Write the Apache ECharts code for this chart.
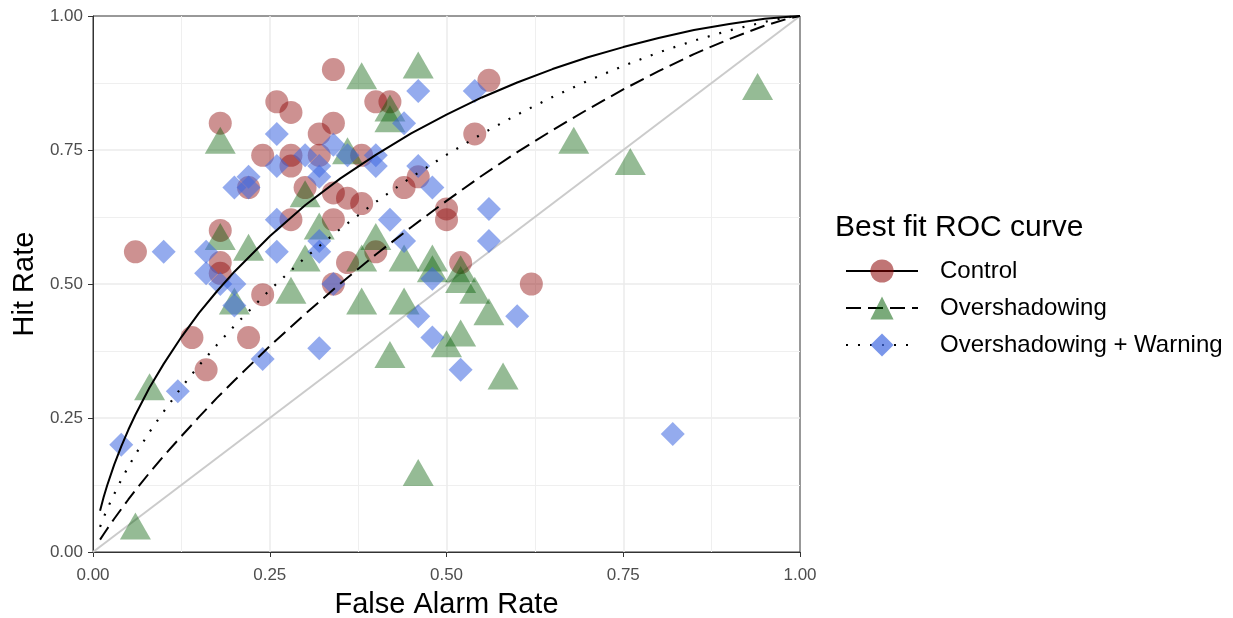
<!DOCTYPE html>
<html>
<head>
<meta charset="utf-8">
<script src="https://cdn.jsdelivr.net/npm/echarts@6/dist/echarts.min.js"></script>
<style>
  html, body { margin: 0; padding: 0; background: #fff; }
  #chart { width: 1233px; height: 618px; }
</style>
</head>
<body>
<div id="chart"></div>
<script>
// Observed false alarm / hit rates per participant
const controlFar = [0.06,0.18,0.34,0.56,0.62,0.26,0.28,0.40,0.42,0.34,0.32,0.24,0.28,0.28,0.32,0.38,0.54,0.22,0.30,0.44,0.46,0.34,0.36,0.38,0.34,0.50,0.50,0.28,0.18,0.18,0.18,0.24,0.14,0.22,0.16,0.36,0.40,0.34,0.52];
const controlHit = [0.56,0.80,0.90,0.88,0.50,0.84,0.82,0.84,0.84,0.80,0.78,0.74,0.74,0.72,0.74,0.74,0.78,0.68,0.68,0.68,0.70,0.67,0.66,0.65,0.62,0.64,0.62,0.62,0.60,0.54,0.52,0.48,0.40,0.40,0.34,0.54,0.56,0.50,0.54];

const overFar = [0.18,0.38,0.46,0.42,0.42,0.36,0.30,0.18,0.22,0.20,0.28,0.30,0.32,0.38,0.40,0.38,0.44,0.48,0.48,0.52,0.52,0.54,0.56,0.44,0.50,0.52,0.42,0.58,0.08,0.06,0.46,0.68,0.76,0.94];
const overHit = [0.76,0.88,0.90,0.82,0.80,0.74,0.66,0.58,0.56,0.46,0.48,0.54,0.60,0.46,0.58,0.54,0.54,0.54,0.52,0.52,0.50,0.48,0.44,0.46,0.38,0.40,0.36,0.32,0.30,0.04,0.14,0.76,0.72,0.86];

const warnFar = [0.04,0.12,0.10,0.16,0.16,0.18,0.20,0.20,0.24,0.26,0.26,0.20,0.22,0.22,0.26,0.26,0.30,0.32,0.32,0.34,0.36,0.40,0.40,0.44,0.46,0.54,0.46,0.48,0.32,0.32,0.34,0.42,0.44,0.48,0.56,0.56,0.46,0.48,0.32,0.52,0.60,0.82];
const warnHit = [0.20,0.30,0.56,0.56,0.52,0.50,0.50,0.46,0.36,0.62,0.56,0.68,0.70,0.68,0.72,0.78,0.74,0.72,0.70,0.76,0.74,0.74,0.72,0.80,0.86,0.86,0.72,0.68,0.58,0.56,0.50,0.62,0.58,0.51,0.64,0.58,0.44,0.40,0.38,0.34,0.44,0.22];

// Best fit ROC curves, sampled along the false alarm axis
const curveFar = [0.01,0.015,0.02,0.03,0.04,0.05,0.06,0.08,0.10,0.125,0.15,0.175,0.20,0.25,0.30,0.35,0.40,0.45,0.50,0.55,0.60,0.65,0.70,0.75,0.80,0.85,0.90,0.95,0.98,0.99,1.00];
const controlCurve = [0.077,0.102,0.124,0.163,0.197,0.228,0.256,0.307,0.351,0.401,0.446,0.486,0.523,0.589,0.647,0.697,0.741,0.781,0.816,0.848,0.876,0.901,0.923,0.942,0.959,0.974,0.985,0.995,0.998,0.999,1.000];
const overCurve    = [0.023,0.033,0.043,0.062,0.080,0.098,0.115,0.148,0.179,0.216,0.252,0.287,0.320,0.384,0.444,0.501,0.555,0.606,0.655,0.702,0.746,0.787,0.826,0.863,0.897,0.929,0.957,0.982,0.994,0.997,1.000];
const warnCurve    = [0.047,0.064,0.080,0.108,0.135,0.159,0.182,0.224,0.262,0.307,0.348,0.386,0.422,0.489,0.549,0.603,0.653,0.699,0.741,0.780,0.816,0.849,0.879,0.907,0.932,0.954,0.973,0.989,0.997,0.999,1.000];

const tickValues = [0, 0.25, 0.5, 0.75, 1];
const tickLabels = ['0.00', '0.25', '0.50', '0.75', '1.00'];
const groupNames = ['Control', 'Overshadowing', 'Overshadowing + Warning'];

const zip = (xs, ys) => xs.map((x, i) => [x, ys[i]]);
const tickText = v => {
  const i = tickValues.findIndex(t => Math.abs(t - v) < 1e-9);
  return i >= 0 ? tickLabels[i] : '';
};

const RED = 'rgba(139,0,0,0.54)';
const GREEN = 'rgba(0,92,0,0.52)';
const BLUE = 'rgba(65,105,225,0.7)';

const FONT = '"Liberation Sans", Arial, sans-serif';

const axisCommon = {
  type: 'value', min: 0, max: 1, interval: 0.25,
  axisLine: { show: true, lineStyle: { color: '#333', width: 1 } },
  axisTick: { show: true, length: 5, lineStyle: { color: '#333', width: 1 } },
  splitLine: { show: true, showMinLine: false, showMaxLine: false, lineStyle: { color: '#ebebeb', width: 1.5 } },
  minorTick: { show: false, splitNumber: 2 },
  minorSplitLine: { show: true, lineStyle: { color: '#efefef', width: 1 } },
  nameLocation: 'middle',
  nameTextStyle: { fontFamily: FONT, fontSize: 29, color: '#000' }
};

const option = {
  animation: false,
  backgroundColor: '#fff',
  grid: {
    left: 93, right: 433, top: 16, bottom: 66,
    containLabel: false, outerBoundsMode: 'none',
    show: true, borderColor: '#333', borderWidth: 1, backgroundColor: 'transparent'
  },
  xAxis: Object.assign({}, axisCommon, {
    name: 'False Alarm Rate', nameGap: 38,
    axisLabel: { formatter: tickText, margin: 15, fontFamily: FONT, fontSize: 17, color: '#4d4d4d' }
  }),
  yAxis: Object.assign({}, axisCommon, {
    name: 'Hit Rate', nameGap: 49,
    axisLabel: { formatter: tickText, margin: 10, fontFamily: FONT, fontSize: 17, color: '#4d4d4d' }
  }),
  title: {
    text: 'Best fit ROC curve', left: 835, top: 213, padding: 0,
    textStyle: { fontFamily: FONT, fontSize: 30, fontWeight: 'normal', color: '#000' }
  },
  legend: {
    data: groupNames, orient: 'vertical', left: 845, top: 259, padding: 0,
    itemWidth: 72, itemHeight: 29, itemGap: 13,
    textStyle: { fontFamily: FONT, fontSize: 24, color: '#000', padding: [0, 0, 0, 17] },
    selectedMode: false
  },
  series: [
    // Fitted curves come first so they represent each group in the legend
    {
      name: groupNames[0], type: 'line', data: zip(curveFar, controlCurve),
      smooth: false, showSymbol: false, symbol: 'circle', z: 5,
      lineStyle: { color: '#000', width: 2, type: 'solid' }, itemStyle: { color: RED }
    },
    {
      name: groupNames[1], type: 'line', data: zip(curveFar, overCurve),
      smooth: false, showSymbol: false, symbol: 'triangle', z: 5,
      lineStyle: { color: '#000', width: 2, type: [15, 7] }, itemStyle: { color: GREEN }
    },
    {
      name: groupNames[2], type: 'line', data: zip(curveFar, warnCurve),
      smooth: false, showSymbol: false, symbol: 'diamond', z: 5,
      lineStyle: { color: '#000', width: 2.2, type: [2, 10] }, itemStyle: { color: BLUE }
    },
    // Chance diagonal
    {
      name: 'chance', type: 'line', data: [[0, 0], [1, 1]], showSymbol: false, z: 1,
      lineStyle: { color: '#cbcbcb', width: 2 }, silent: true
    },
    {
      name: groupNames[0], type: 'scatter', data: zip(controlFar, controlHit),
      symbol: 'circle', symbolSize: 23, z: 3, itemStyle: { color: RED }
    },
    {
      name: groupNames[1], type: 'scatter', data: zip(overFar, overHit),
      symbol: 'triangle', symbolSize: [31, 27], symbolOffset: [0, -4.5], z: 3, itemStyle: { color: GREEN }
    },
    {
      name: groupNames[2], type: 'scatter', data: zip(warnFar, warnHit),
      symbol: 'diamond', symbolSize: 24, z: 3, itemStyle: { color: BLUE }
    }
  ]
};

const chart = echarts.init(document.getElementById('chart'), null, { renderer: 'canvas' });
chart.setOption(option);
</script>
</body>
</html>
